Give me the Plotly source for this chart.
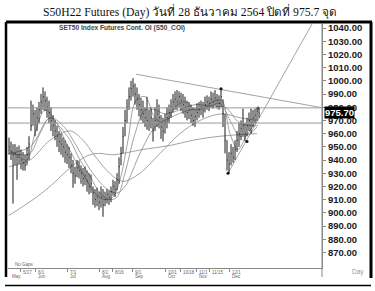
import plotly.graph_objects as go

# ---------------- data (bar index -> trading bar) ----------------
close = [950, 946, 944,
         945, 942, 944, 940, 938, 936,
         944, 952, 966, 975,
         968, 972, 978,
         984, 988, 985,
         980, 976, 970,
         966, 962, 958, 954,
         952, 950, 946, 944,
         942, 936,
         930, 928,
         934, 932,
         930, 926, 928,
         924, 920, 922,
         915, 910, 912, 908,
         912, 906,
         910, 914, 912,
         916, 920, 918,
         925, 935,
         945, 958, 970,
         980, 988,
         994, 996, 990,
         986, 982, 978,
         975, 972,
         970, 968, 972,
         962,
         970, 975, 972,
         965, 962,
         968, 972, 976,
         980, 984, 986,
         984, 988, 985, 982,
         980, 976, 978,
         974, 970, 973,
         976, 978, 980, 978,
         982, 984, 983,
         986, 984, 987, 985,
         983, 988,
         975, 955, 940, 937,
         945, 942, 948,
         955, 960, 964,
         966, 960,
         966, 970, 968,
         972, 974, 977,
         975.7]
high = [957, 954, 952,
        952, 950, 951, 948, 946, 944,
        950, 958, 985, 982,
        978, 980, 984,
        990, 995, 992,
        988, 985, 980,
        974, 970, 966, 962,
        960, 957, 955, 952,
        950, 945,
        940, 935,
        940, 939,
        936, 934, 935,
        932, 930, 929,
        920, 918, 919, 916,
        920, 918,
        916, 918, 917,
        920, 925, 924,
        930, 942,
        950, 965, 978,
        986, 995,
        1000, 1002, 998,
        995, 990, 987,
        985, 980,
        988, 978, 980,
        972,
        980, 986, 982,
        974, 972,
        975, 980, 982,
        986, 990, 992,
        993, 992, 991, 990,
        988, 985, 984,
        982, 980, 979,
        983, 984, 985, 984,
        988, 989, 988,
        992, 991, 993, 990,
        989, 994,
        986, 975, 955, 946,
        952, 950, 955,
        962, 968, 970,
        979, 968,
        972, 976, 979,
        978, 979, 980,
        980]
low = [944, 940, 907,
       936, 925, 937, 933, 932, 932,
       936, 940, 962, 966,
       958, 962, 968,
       975, 978, 977,
       972, 968, 962,
       958, 955, 950, 946,
       944, 942, 938, 937,
       934, 930,
       919, 922,
       927, 926,
       922, 920, 921,
       916, 914, 915,
       906, 904, 905, 902,
       904, 897,
       905, 907, 906,
       908, 913, 912,
       917, 922,
       936, 945, 958,
       968, 978,
       985, 988, 982,
       978, 973, 970,
       968, 965,
       963, 962, 964,
       954,
       962, 965, 964,
       956, 954,
       960, 964, 968,
       972, 976, 978,
       978, 980, 977, 975,
       972, 970, 971,
       968, 966, 965,
       970, 972, 974, 972,
       976, 978, 977,
       980, 979, 981, 979,
       978, 980,
       965, 945, 932, 930,
       936, 938, 940,
       946, 950, 955,
       958, 954,
       958, 962, 960,
       965, 968, 970,
       972]

# moving averages (sparse readings: bar index, value)
ma_long_x = [0, 12, 20.5, 29, 35.5, 40.5, 45.5, 52, 67, 80.5, 92, 105.5, 124]
ma_long_y = [898, 910, 920, 932, 940, 944, 945, 944, 948, 951, 955, 958, 960]
ma_a_x = [0, 10.5, 20.5, 30.5, 37, 42, 49, 54.5, 58, 65.5, 75.5, 85.5, 95.5, 106.5, 115.5, 124.5]
ma_a_y = [935, 940, 955, 962, 955, 945, 932, 925, 924, 930, 945, 960, 970, 975, 972, 970]
ma_b_x = [0, 10.5, 20.5, 27, 34, 40.5, 49, 54, 58, 65.5, 73, 80.5, 90.5, 100.5, 108, 115.5, 124.5]
ma_b_y = [945, 950, 972, 966, 950, 933, 918, 915, 920, 945, 965, 972, 978, 980, 980, 968, 966]
ma_c_x = [0, 5.5, 10.5, 15.5, 20.5, 25.5, 30.5, 35.5, 40.5, 45.5, 50.5, 54, 58, 63, 68, 73, 78,
          85.5, 93, 100.5, 105.5, 110.5, 115.5, 120.5, 124]
ma_c_y = [945, 944, 945, 960, 972, 965, 955, 940, 928, 915, 910, 912, 930, 960, 978, 978, 975,
          978, 982, 981, 983, 970, 958, 960, 965]
ma_d_x = [0, 5.5, 9, 13, 18, 23, 28, 33, 38, 43, 48, 52, 55.5, 59.5, 63.5, 68, 73, 78, 83, 88,
          93, 98, 103, 106.5, 110.5, 114.5, 118.5, 124]
ma_d_y = [948, 942, 940, 960, 978, 970, 955, 940, 927, 915, 910, 912, 925, 955, 985, 988, 972,
          968, 980, 984, 978, 980, 985, 985, 960, 948, 958, 970]

levels = [979.5, 968.0]
trend_down_x = [63.5, 157]
trend_down_y = [1005, 979.5]
trend_up_x = [109.5, 151.5]
trend_up_y = [930, 1043]
pivot_x = [106, 109.5, 119, 124.5]
pivot_y = [994, 930, 954, 979.5]

y_ticks = list(range(870, 1041, 10))
x_tick_idx = [5.5, 13, 29, 45, 51.5, 61.5, 78, 85.5, 93.5, 100, 110]
x_tick_lbl = ["5/17", "6/1", "7/1", "8/2", "8/16", "9/1", "10/1", "10/18", "11/1", "11/15", "12/1"]
month_idx = [0, 13, 29, 45, 61.5, 78, 93.5, 110]
month_lbl = ["May", "Jun", "Jul", "Aug", "Sep", "Oct", "Nov", "Dec"]
last_price = 975.7

# ---------------- figure ----------------
W, H = 375, 291
def PX(x): return x / W
def PY(y): return 1 - y / H

fig = go.Figure()

# bars (high-low) and close ticks
bx, by, cx, cy = [], [], [], []
for i, (h, l, c) in enumerate(zip(high, low, close)):
    bx += [i, i, None]
    by += [l, h, None]
    cx += [i, i + 0.4, None]
    cy += [c, c, None]

ma_col = "#8c8c8c"
for mx, my in [(ma_long_x, ma_long_y), (ma_a_x, ma_a_y), (ma_b_x, ma_b_y),
               (ma_c_x, ma_c_y), (ma_d_x, ma_d_y)]:
    fig.add_trace(go.Scatter(x=mx, y=my, mode="lines", line=dict(color=ma_col, width=0.8, shape="spline"),
                             hoverinfo="skip"))

for lv in levels:
    fig.add_hline(y=lv, line=dict(color="#9a9a9a", width=1))

fig.add_trace(go.Scatter(x=trend_down_x, y=trend_down_y, mode="lines",
                         line=dict(color="#8c8c8c", width=0.8), hoverinfo="skip"))
fig.add_trace(go.Scatter(x=trend_up_x, y=trend_up_y, mode="lines",
                         line=dict(color="#8c8c8c", width=0.8), hoverinfo="skip"))

fig.add_trace(go.Scatter(x=bx, y=by, mode="lines", line=dict(color="#1a1a1a", width=1), hoverinfo="skip"))
fig.add_trace(go.Scatter(x=cx, y=cy, mode="lines", line=dict(color="#1a1a1a", width=1), hoverinfo="skip"))
fig.add_trace(go.Scatter(x=pivot_x, y=pivot_y, mode="markers",
                         marker=dict(color="#111111", size=3), hoverinfo="skip"))

fig.update_layout(
    width=W, height=H, margin=dict(l=0, r=0, t=0, b=0),
    paper_bgcolor="white", plot_bgcolor="white", showlegend=False,
    xaxis=dict(domain=[PX(8), PX(322)], range=[-0.5, 156.5], showgrid=False, zeroline=False,
               showline=True, linecolor="#888888", linewidth=1,
               tickvals=x_tick_idx, ticks="outside", ticklen=3, tickcolor="#888888",
               showticklabels=False),
    yaxis=dict(domain=[PY(268), PY(23)], range=[858.2, 1043.8], side="right", showgrid=False,
               zeroline=False, showline=True, linecolor="#888888", linewidth=1,
               tickvals=y_ticks, ticktext=["%.2f" % v for v in y_ticks],
               ticks="outside", ticklen=3, tickcolor="#888888",
               tickfont=dict(family="Liberation Sans, Arial", size=9.5, color="#1a1a1a", weight="bold")),
)

# x-axis date labels
for t, lbl in zip(x_tick_idx, x_tick_lbl):
    fig.add_annotation(x=t, y=PY(268), xref="x", yref="paper", text=lbl, showarrow=False,
                       xanchor="left", yanchor="top", xshift=0.5,
                       font=dict(family="Liberation Sans", size=4.5, color="#666666"))
for t, lbl in zip(month_idx, month_lbl):
    fig.add_annotation(x=t, y=PY(272), xref="x", yref="paper", text=lbl, showarrow=False,
                       xanchor="left", yanchor="top", xshift=0.5,
                       font=dict(family="Liberation Sans", size=4.5, color="#666666"))
fig.add_annotation(x=PX(13), y=PY(264), xref="paper", yref="paper", text="No Gaps", showarrow=False,
                   xanchor="left", yanchor="middle", font=dict(family="Liberation Sans", size=4.5, color="#666666"))
fig.add_annotation(x=PX(358), y=PY(272), xref="paper", yref="paper", text="Day", showarrow=False,
                   xanchor="center", yanchor="middle", font=dict(family="Liberation Sans", size=6.5, color="#999999"))

# last price box
fig.add_annotation(x=PX(324), y=last_price, xref="paper", yref="y", text="%.2f" % last_price,
                   showarrow=False, xanchor="left", yanchor="middle", bgcolor="black", borderpad=0,
                   font=dict(family="Liberation Sans, Arial", size=9.5, color="white", weight="bold"))

# titles
fig.add_annotation(x=PX(190), y=PY(12), xref="paper", yref="paper",
                   text="S50H22 Futures (Day) วันที่ 28 ธันวาคม 2564 ปิดที่ 975.7 จุด",
                   showarrow=False, xanchor="center", yanchor="middle",
                   font=dict(family="Liberation Serif, Times New Roman, serif", size=11.7, color="#111111"))
fig.add_annotation(x=PX(122), y=PY(27.5), xref="paper", yref="paper",
                   text="SET50 Index Futures Cont. OI (S50_COI)",
                   showarrow=False, xanchor="center", yanchor="middle",
                   font=dict(family="Liberation Sans, Arial", size=6.6, color="#444444", weight="bold"))

# frame
frame = [
    (PX(6), PY(22), PX(372), PY(22), 3, "black"),
    (PX(6), PY(22), PX(6), PY(277), 2.5, "black"),
    (PX(371), PY(22), PX(371), PY(278), 3, "black"),
    (PX(5), PY(285.5), PX(371), PY(285.5), 1.5, "black"),
]
for x0, y0, x1, y1, w, c in frame:
    fig.add_shape(type="line", xref="paper", yref="paper", x0=x0, y0=y0, x1=x1, y1=y1,
                  line=dict(color=c, width=w))
fig.add_shape(type="line", xref="paper", yref="paper", x0=PX(322), y0=PY(23), x1=PX(322), y1=PY(277),
              line=dict(color="#888888", width=1))

fig.write_html("out.html")
